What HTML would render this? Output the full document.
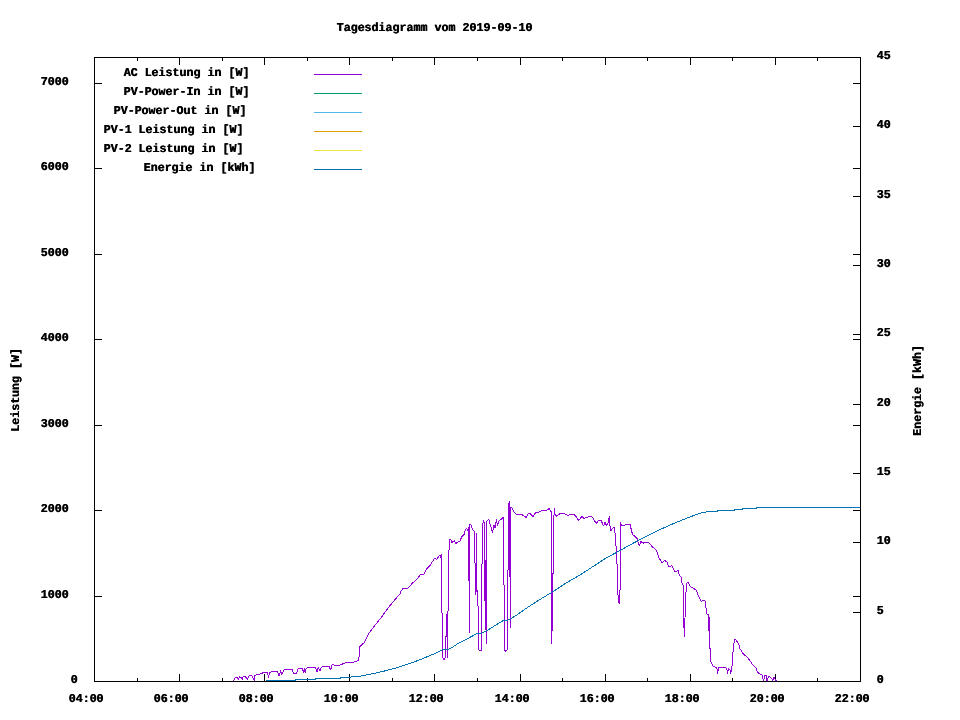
<!DOCTYPE html>
<html lang="de"><head><meta charset="utf-8"><title>Tagesdiagramm vom 2019-09-10</title>
<style>html,body{margin:0;padding:0;background:#fff;}body{width:960px;height:720px;overflow:hidden;}svg{display:block;}#c{position:relative;width:960px;height:720px;overflow:hidden;}#c svg{position:absolute;left:0;top:0;}.t{position:absolute;font-family:"Liberation Mono",monospace;font-weight:bold;font-size:11.667px;line-height:14px;height:14px;white-space:pre;color:#000;text-shadow:0.5px 0 0 #000;text-rendering:geometricPrecision;transform-origin:0 10.1px;}</style></head><body><div id="c">
<svg width="960" height="720" viewBox="0 0 960 720">
<rect width="960" height="720" fill="#fff"/>
<path d="M94,57h767v1h-767zM94,681h767v1h-767zM94,57h1v625h-1zM860,57h1v625h-1zM137,678h1v4h-1zM137,57h1v4h-1zM179,674h1v8h-1zM179,57h1v8h-1zM222,678h1v4h-1zM222,57h1v4h-1zM264,674h1v8h-1zM264,57h1v8h-1zM307,678h1v4h-1zM307,57h1v4h-1zM349,674h1v8h-1zM349,57h1v8h-1zM392,678h1v4h-1zM392,57h1v4h-1zM434,674h1v8h-1zM434,57h1v8h-1zM477,678h1v4h-1zM477,57h1v4h-1zM520,674h1v8h-1zM520,57h1v8h-1zM562,678h1v4h-1zM562,57h1v4h-1zM605,674h1v8h-1zM605,57h1v8h-1zM647,678h1v4h-1zM647,57h1v4h-1zM690,674h1v8h-1zM690,57h1v8h-1zM732,678h1v4h-1zM732,57h1v4h-1zM775,674h1v8h-1zM775,57h1v8h-1zM817,678h1v4h-1zM817,57h1v4h-1zM94,596h8v1h-8zM853,596h8v1h-8zM94,510h8v1h-8zM853,510h8v1h-8zM94,425h8v1h-8zM853,425h8v1h-8zM94,339h8v1h-8zM853,339h8v1h-8zM94,254h8v1h-8zM853,254h8v1h-8zM94,168h8v1h-8zM853,168h8v1h-8zM94,83h8v1h-8zM853,83h8v1h-8zM853,612h8v1h-8zM853,542h8v1h-8zM853,473h8v1h-8zM853,404h8v1h-8zM853,334h8v1h-8zM853,265h8v1h-8zM853,196h8v1h-8zM853,126h8v1h-8z" fill="#000" shape-rendering="crispEdges"/>
<polyline points="233.1,681 235.6,677.5 237.5,678 238.5,680 239.4,676.9 241.8,677.5 242.2,680 243.1,676.5 245.6,677 247.5,680 248.7,676 251.8,675.6 254.4,680.6 255,675.2 258.7,674.4 262.5,673 267.5,672.5 268.5,677.5 269.4,672.7 272.5,671.2 277.5,671.8 279,676 280.6,670.6 281.9,674.4 283.7,670 288.7,669.7 292.5,670 293.7,673.7 296.2,674 298.1,668.7 302.5,668.1 303.5,673.1 304.4,668.1 305.2,673 306.2,668.1 310,667.2 315.6,667.5 316.9,672.2 318.1,667.5 320,671.2 321.2,667.2 325,666.5 329.4,666.9 330.6,670 332.2,664.4 335,665.4 340,665 346.2,662.5 351.2,662.9 358.1,660.6 359,657.5 359.4,647.2 361.9,644.4 364.4,642.5 368.7,633.7 376.2,623.7 381.2,617.5 387.5,608.7 392.5,602.5 400,593.7 401.2,590.6 403.1,588.5 408.1,588.1 412.5,583.1 417.5,578.7 420.6,574.4 423.7,574.4 426.9,568.7 430,565.6 434.4,558.5 436.9,559.4 439.4,555 440.6,557.5 441.2,554 441.5,556 441.5,600 442.5,625 442.5,657.5 443.5,659 444.5,659 445.5,657.5 445.5,636.5 446.5,636 446.5,614 447.5,614 447.5,657.5 448.2,595 448.7,558.7 449.4,539.4 450.6,539.4 451.9,542.5 454.4,540.6 455.6,543.5 460,541 461.9,536.2 463.7,535.6 465,531.2 466.5,528.1 468.1,531.2 468.5,581 469,527 469.4,524.4 469.5,632.5 469.7,524.4 471.2,525 472.7,530 474.4,531.2 474.7,562.5 475.6,563.7 476,595 476.5,533.1 477,590 478.1,607 478.3,649 479,650 481.5,650 481.9,573.7 482.5,526.2 483.5,520 484.4,523.7 484.7,570 485.3,630 485.8,560 486.3,643.7 486.6,521.2 488.7,519.4 490,523.7 492.5,532.5 494,525 495,528.1 496.5,519.4 497.5,525.6 498.7,521.2 503.7,517.2 504,585 504.4,650 505.5,651.2 507,650 507.5,649 507.7,610 508.1,560 508.6,505 509.4,501 509.8,520 510.2,627.7 510.5,560 510.8,507.5 511.9,507.5 513.1,510.6 516.2,514.4 521.2,514 526.2,517.5 528.1,513.5 530,513.5 533.1,516.5 535.6,512.5 540,511.9 542.5,510.2 546.2,510.6 549.4,508.5 551.2,511.9 551.4,632 551.6,643.7 552,632 552.6,600 553.1,567.5 553.7,520 554.4,508.1 555,513.7 556.2,516.2 560,513.7 563.7,513.5 567.5,515.2 573.7,514.4 576.9,517.5 578.7,520.6 581.9,516.5 584.4,518.7 586.2,517.2 591.9,516.5 596.2,523.5 598.7,520 601.2,520.6 603.7,526.2 605,522.5 606.2,525.6 608.1,523.1 609.4,516.5 610,526.2 611.2,531.2 612.5,528.1 614.4,527.7 615,532.5 616.3,550 617,563.7 617.7,592 618.8,602 619.6,604.4 620.2,584 620.6,521.9 621.2,525 625,525 626.9,524.4 630,524.4 632.5,534.4 637.5,538.7 638.1,542.5 639.4,546.2 640.6,541.5 643.7,543.1 648.1,541.9 652.5,546.9 656.2,550 659.4,558.7 661.9,562.5 665,560.6 666.9,561.9 668.7,566.9 671.9,565.6 675,571.9 678.1,570.6 678.7,573.7 681.2,577.5 681.9,582.5 683.5,586.2 683.6,618 684.4,636.9 685,618 685.6,596 686.5,588 686.9,583.1 688.1,582.5 690,586.2 696.2,590 698.1,595 701.2,601.2 705,600.6 706.9,613.7 708.5,615 708.6,631.2 709.4,617.5 709.7,627.5 710.2,660 713.1,666.2 716.9,668.1 717.5,673.7 718.7,667.5 725,667.2 726.9,668.7 727.5,673.7 728.5,668.7 730,670 730.6,673.7 731.9,668.7 732.5,657.5 733.7,645 734.7,639.4 736.2,640 738.7,644.4 740,648.7 743.1,653.7 747.5,657.5 752.5,664.4 756.2,668.1 757.5,672.5 761.9,675 763.5,681 764.7,675.6 766.2,675 766.9,681 768.1,677.5 769.4,676.2 771.9,678.7 772.7,681 774,676.9 775.6,680 776.9,681" fill="none" stroke="#9400D3" stroke-width="1" stroke-linejoin="bevel" shape-rendering="crispEdges"/>
<polyline points="266.2,680.5 295,680.5 295.5,679.5 315.5,679.5 316,678.5 335,678.5 349.4,677.2 361.2,676 372.5,673.7 385,670.9 397.5,667.5 410,663.5 422.5,658.7 435,653.5 442.5,649.7 448.7,649.4 455,645.6 458.7,643.1 468.7,638.1 476.9,633.5 481.9,633.1 486.9,630.6 495,625.6 502.5,621 508.1,620 515,616.2 527.5,607.5 540,599.4 552.5,591.9 565,583.7 580,575 592.5,566.9 605,558.7 617.5,551.9 630,545 642.5,538.1 655,531.9 667.5,526.2 677.5,521.9 690,516.9 702.5,512.5 708.7,511.5 717.5,511.5 718,510.5 734,510.5 735,509.5 742,509.5 742.5,508.5 756,508.5 756.5,507.5 860,507.5" fill="none" stroke="#0072B2" stroke-width="1" shape-rendering="crispEdges"/>
<path d="M314,74.5H362" stroke="#9400D3" stroke-width="1" shape-rendering="crispEdges"/>
<path d="M314,93.5H362" stroke="#009E73" stroke-width="1" shape-rendering="crispEdges"/>
<path d="M314,112.5H362" stroke="#56B4E9" stroke-width="1" shape-rendering="crispEdges"/>
<path d="M314,131.5H362" stroke="#E69F00" stroke-width="1" shape-rendering="crispEdges"/>
<path d="M314,150.5H362" stroke="#F0E442" stroke-width="1" shape-rendering="crispEdges"/>
<path d="M314,169.5H362" stroke="#0072B2" stroke-width="1" shape-rendering="crispEdges"/>
</svg>
<div class="t" style="left:123.4px;top:65.9px;transform:scale(1,1.03)">AC Leistung in [W]</div>
<div class="t" style="left:123.4px;top:84.9px;transform:scale(1,1.03)">PV-Power-In in [W]</div>
<div class="t" style="left:113.4px;top:103.9px;transform:scale(1,1.03)">PV-Power-Out in [W]</div>
<div class="t" style="left:103.4px;top:122.9px;transform:scale(1,1.03)">PV-1 Leistung in [W]</div>
<div class="t" style="left:103.4px;top:141.9px;transform:scale(1,1.03)">PV-2 Leistung in [W]</div>
<div class="t" style="left:143.4px;top:160.9px;transform:scale(1,1.03)">Energie in [kWh]</div>
<div class="t" style="left:336.4px;top:20.9px;transform:scale(1,1.03)">Tagesdiagramm vom 2019-09-10</div>
<div class="t" style="left:70.4px;top:672.9px;transform:scale(1,1.03)">0</div>
<div class="t" style="left:40.4px;top:587.9px;transform:scale(1,1.03)">1000</div>
<div class="t" style="left:40.4px;top:501.9px;transform:scale(1,1.03)">2000</div>
<div class="t" style="left:40.4px;top:416.9px;transform:scale(1,1.03)">3000</div>
<div class="t" style="left:40.4px;top:330.9px;transform:scale(1,1.03)">4000</div>
<div class="t" style="left:40.4px;top:245.9px;transform:scale(1,1.03)">5000</div>
<div class="t" style="left:40.4px;top:159.9px;transform:scale(1,1.03)">6000</div>
<div class="t" style="left:40.4px;top:74.9px;transform:scale(1,1.03)">7000</div>
<div class="t" style="left:876.4px;top:672.9px;transform:scale(1,1.03)">0</div>
<div class="t" style="left:876.4px;top:603.9px;transform:scale(1,1.03)">5</div>
<div class="t" style="left:876.4px;top:533.9px;transform:scale(1,1.03)">10</div>
<div class="t" style="left:876.4px;top:464.9px;transform:scale(1,1.03)">15</div>
<div class="t" style="left:876.4px;top:395.9px;transform:scale(1,1.03)">20</div>
<div class="t" style="left:876.4px;top:325.9px;transform:scale(1,1.03)">25</div>
<div class="t" style="left:876.4px;top:256.9px;transform:scale(1,1.03)">30</div>
<div class="t" style="left:876.4px;top:187.9px;transform:scale(1,1.03)">35</div>
<div class="t" style="left:876.4px;top:117.9px;transform:scale(1,1.03)">40</div>
<div class="t" style="left:876.4px;top:48.9px;transform:scale(1,1.03)">45</div>
<div class="t" style="left:68.4px;top:691.9px;transform:scale(1,1.03)">04:00</div>
<div class="t" style="left:153.4px;top:691.9px;transform:scale(1,1.03)">06:00</div>
<div class="t" style="left:238.4px;top:691.9px;transform:scale(1,1.03)">08:00</div>
<div class="t" style="left:323.4px;top:691.9px;transform:scale(1,1.03)">10:00</div>
<div class="t" style="left:408.4px;top:691.9px;transform:scale(1,1.03)">12:00</div>
<div class="t" style="left:494.4px;top:691.9px;transform:scale(1,1.03)">14:00</div>
<div class="t" style="left:579.4px;top:691.9px;transform:scale(1,1.03)">16:00</div>
<div class="t" style="left:664.4px;top:691.9px;transform:scale(1,1.03)">18:00</div>
<div class="t" style="left:749.4px;top:691.9px;transform:scale(1,1.03)">20:00</div>
<div class="t" style="left:834.4px;top:691.9px;transform:scale(1,1.03)">22:00</div>
<div class="t" style="left:18.7px;top:421.5px;transform:rotate(-90deg) scale(1,1.03)">Leistung [W]</div>
<div class="t" style="left:920.6px;top:425.5px;transform:rotate(-90deg) scale(1,1.03)">Energie [kWh]</div>
</div></body></html>
